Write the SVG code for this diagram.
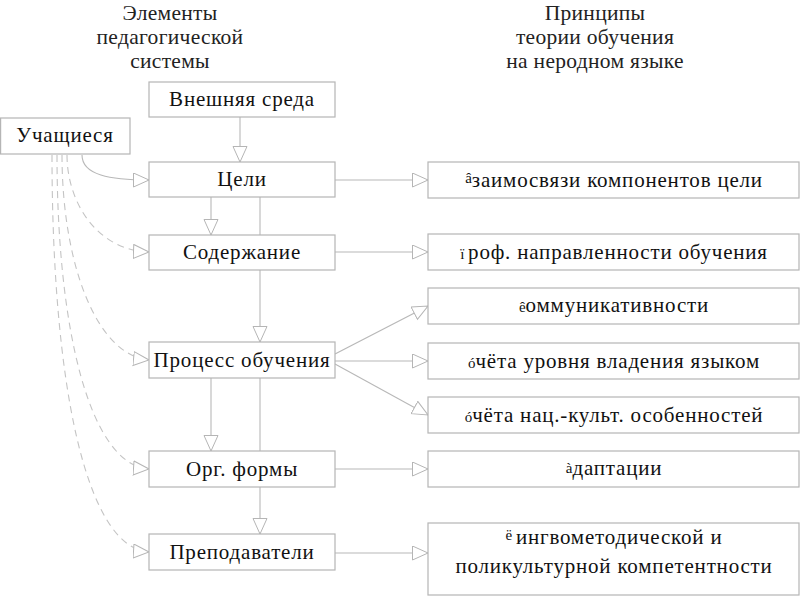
<svg xmlns="http://www.w3.org/2000/svg" width="800" height="596" viewBox="0 0 800 596">
<style>
.box{fill:#fff;stroke:#b5b5b5;stroke-width:1.2}
.t{font-family:'Liberation Serif','Times New Roman',serif;font-size:21px;letter-spacing:0.8px;fill:#111;text-anchor:middle}
.h{font-family:'Liberation Serif','Times New Roman',serif;font-size:21.5px;letter-spacing:0.3px;fill:#222;text-anchor:middle}
.c{fill:none;stroke:#b8b8b8;stroke-width:1.1}
.d{fill:none;stroke:#c4c4c4;stroke-width:1.1;stroke-dasharray:7 5}
.p{font-size:15px;letter-spacing:0}
</style>
<defs>
<marker id="a" markerUnits="userSpaceOnUse" markerWidth="18" markerHeight="18" refX="16" refY="7.5" orient="auto">
<path d="M0.5,0.5 L16,7.5 L0.5,14.5 Z" fill="#fff" stroke="#b5b5b5" stroke-width="1"/>
</marker>
</defs>
<rect width="800" height="596" fill="#fff"/>
<g id="headers">
<text class="h" x="170" y="19.5">Элементы</text>
<text class="h" x="170" y="43.5">педагогической</text>
<text class="h" x="170" y="67.5">системы</text>
<text class="h" x="595" y="19.5">Принципы</text>
<text class="h" x="595" y="43.5">теории обучения</text>
<text class="h" x="595" y="67.5">на неродном языке</text>
</g>
<g id="connectors">
<line class="c" x1="240" y1="117" x2="240" y2="162" marker-end="url(#a)"/>
<line class="c" x1="211" y1="197" x2="211" y2="235" marker-end="url(#a)"/>
<line class="c" x1="260" y1="197" x2="260" y2="342" marker-end="url(#a)"/>
<line class="c" x1="211" y1="378" x2="211" y2="451" marker-end="url(#a)"/>
<line class="c" x1="260" y1="378" x2="260" y2="534" marker-end="url(#a)"/>
<line class="c" x1="335" y1="180" x2="428" y2="180" marker-end="url(#a)"/>
<line class="c" x1="335" y1="252" x2="428" y2="252" marker-end="url(#a)"/>
<line class="c" x1="335" y1="354" x2="428" y2="306" marker-end="url(#a)"/>
<line class="c" x1="335" y1="361" x2="428" y2="361" marker-end="url(#a)"/>
<line class="c" x1="335" y1="364" x2="428" y2="415" marker-end="url(#a)"/>
<line class="c" x1="335" y1="469" x2="428" y2="469" marker-end="url(#a)"/>
<line class="c" x1="335" y1="553" x2="428" y2="553" marker-end="url(#a)"/>
<path class="c" d="M82,155 C82,175 110,180 149,180" marker-end="url(#a)"/>
<path class="d" d="M67,155 C67,200 95,250 149,252" marker-end="url(#a)"/>
<path class="d" d="M62,155 C62,260 95,355 149,360" marker-end="url(#a)"/>
<path class="d" d="M57,155 C57,330 90,465 149,469" marker-end="url(#a)"/>
<path class="d" d="M52,155 C52,380 85,548 149,552" marker-end="url(#a)"/>
</g>
<g id="n-students"><rect class="box" x="0.6" y="118" width="129.4" height="36"/><text class="t" x="65" y="142">Учащиеся</text></g>
<g id="n-env"><rect class="box" x="149" y="82" width="186" height="35"/><text class="t" x="242" y="106">Внешняя среда</text></g>
<g id="n-goals"><rect class="box" x="149" y="162" width="186" height="35"/><text class="t" x="242" y="186">Цели</text></g>
<g id="n-content"><rect class="box" x="149" y="235" width="186" height="35"/><text class="t" x="242" y="259">Содержание</text></g>
<g id="n-process"><rect class="box" x="149" y="342" width="186" height="36"/><text class="t" x="242" y="367">Процесс обучения</text></g>
<g id="n-forms"><rect class="box" x="149" y="451" width="186" height="36"/><text class="t" x="242" y="476">Орг. формы</text></g>
<g id="n-teachers"><rect class="box" x="149" y="534" width="186" height="36"/><text class="t" x="242" y="559">Преподаватели</text></g>
<g id="r1"><rect class="box" x="428" y="162" width="371" height="36"/><text class="t" x="614" y="187"><tspan class="p" dy="-4">â</tspan><tspan dy="4">заимосвязи компонентов цели</tspan></text></g>
<g id="r2"><rect class="box" x="428" y="234" width="371" height="36"/><text class="t" x="614" y="259"><tspan class="p">ï </tspan>роф. направленности обучения</text></g>
<g id="r3"><rect class="box" x="428" y="288" width="371" height="36"/><text class="t" x="614" y="312"><tspan class="p">ê</tspan>оммуникативности</text></g>
<g id="r4"><rect class="box" x="428" y="343" width="371" height="36"/><text class="t" x="614" y="368"><tspan class="p">ó</tspan>чёта уровня владения языком</text></g>
<g id="r5"><rect class="box" x="428" y="397" width="371" height="36"/><text class="t" x="614" y="422"><tspan class="p">ó</tspan>чёта нац.-культ. особенностей</text></g>
<g id="r6"><rect class="box" x="428" y="451" width="371" height="36"/><text class="t" x="614" y="475"><tspan class="p" dy="-2">à</tspan><tspan dy="2">даптации</tspan></text></g>
<g id="r7"><rect class="box" x="428" y="523" width="371" height="72"/><text class="t" x="614" y="544"><tspan class="p" dy="-4">ë </tspan><tspan dy="4">ингвометодической и</tspan></text><text class="t" x="614" y="573">поликультурной компетентности</text></g>
</svg>
